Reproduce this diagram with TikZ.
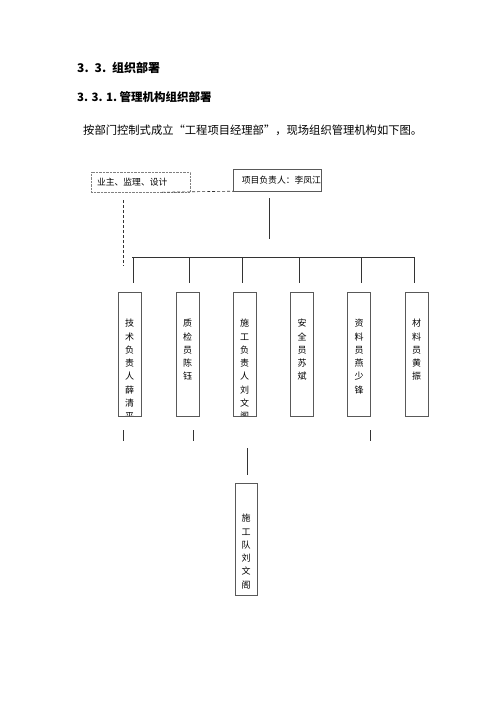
\documentclass[tikz,border=0pt]{standalone}
\usepackage{fontspec}
\setmainfont{Noto Sans CJK SC}
\usetikzlibrary{calc}
\newcommand{\gap}{\hspace{0.5em}}

\begin{document}
\begin{tikzpicture}[x=1pt, y=1pt,
    box/.style={draw=gray!70!black, inner sep=0pt,
      font=\fontsize{8.8}{10}\selectfont},
    postgap/.store in=\postgap, postgap=27,
    post/.style={draw=gray!70!black, minimum width=23, minimum height=124,
      inner sep=0pt, path picture={\node [draw=none, minimum width=0pt,
        minimum height=0pt, anchor=north, align=center, inner sep=0pt,
        font=\fontsize{9}{13.3}\selectfont] at ([yshift=-\postgap]path
        picture bounding box.north) {#1};}}]
    \useasboundingbox (0,0) rectangle (500,-706);

    % headings and text
    \node [anchor=west, inner sep=0pt, font=\fontsize{12}{13}\selectfont\bfseries] (h1) at (77,-68) {3.\gap{}3.\gap{}组织部署};
    \node [anchor=west, inner sep=0pt, font=\fontsize{11.5}{13}\selectfont\bfseries] (h2) at (77,-97) {3.\hspace{0.3em}3.\hspace{0.3em}1.\hspace{0.2em}管理机构组织部署};
    \node [anchor=west, inner sep=0pt, font=\fontsize{11.3}{13}\selectfont] (intro) at (83,-130) {按部门控制式成立“工程项目经理部”，现场组织管理机构如下图。};

    % top boxes
    \node [box, densely dotted, draw=gray, minimum height=20, text width=87, inner
      xsep=6, align=left] (owner) at (140.5,-182) {业主、监理、设计};
    \node [box, minimum height=22, text width=88, align=right] (boss) at (277,-180) {项目负责人：李凤江};

    % posts
    \node [post={技\\术\\负\\责\\人\\薛\\清\\平}] (jishu) at (129.5,-354) {};
    \node [post={质\\检\\员\\陈\\钰}] (zhijian) at (187.5,-354) {};
    \node [post={施\\工\\负\\责\\人\\刘\\文\\阁}] (shigong) at (244.5,-354) {};
    \node [post={安\\全\\员\\苏\\斌}] (anquan) at (302,-354) {};
    \node [post={资\\料\\员\\燕\\少\\锋}] (ziliao) at (359,-354) {};
    \node [post={材\\料\\员\\黄\\振}] (cailiao) at (416.5,-354) {};
    \node [post={施\\工\\队\\刘\\文\\阁}, minimum width=22, minimum height=112,
      postgap=31] (dui) at (246,-539) {};

    \begin{scope}[draw=black!80, line width=0.6pt]
      \draw [dash pattern=on 3pt off 2pt] ([xshift=-28]owner.south east) -- (boss.south west);
      \draw [dash pattern=on 3pt off 2pt] (owner.south west) ++(32,-8) -- ++(0,-66);
      \draw (boss.south) ++(-8,-7) coordinate (b1) -- ++(0,-41);
      \coordinate (busL) at (132,-257); \coordinate (busR) at (415,-257);
      \draw (busL) -- (busR);
      \foreach \n/\dx in {jishu/3.5, zhijian/1.5, shigong/-2.5, anquan/-3,
        ziliao/2, cailiao/-2.5}
        \draw (\n.north) ++(\dx,9) -- ++(0,26);
      \foreach \n/\dx in {jishu/-6.5, zhijian/5.5, ziliao/11}
        \draw (\n.south) ++(\dx,-14) -- ++(0,-11);
      \draw (dui.north) ++(1,8) -- ++(0,27);
    \end{scope}

  \end{tikzpicture}
\end{document}
